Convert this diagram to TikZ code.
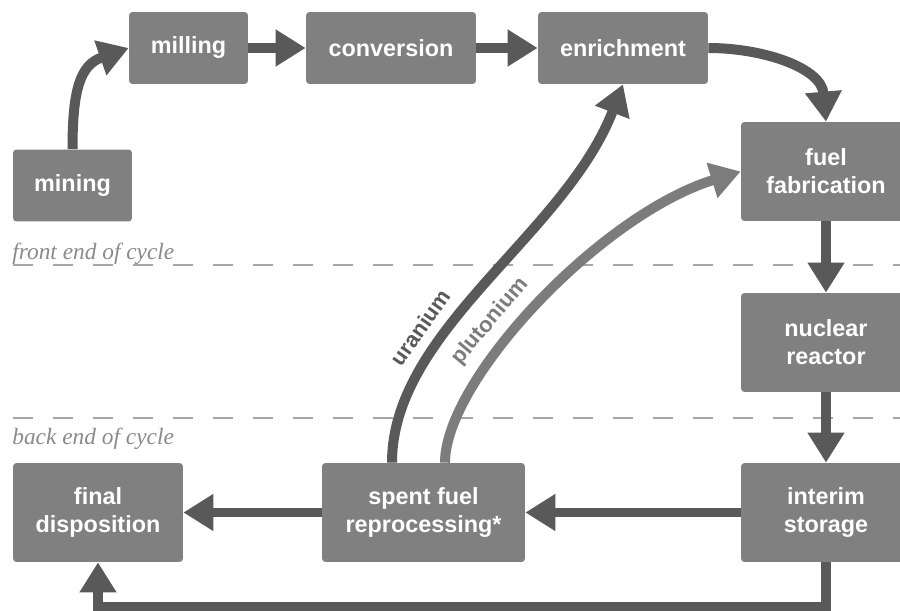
\documentclass[tikz,border=0pt]{standalone}
\usepackage{fontspec}
\setmainfont{Liberation Sans}
\newfontfamily\phaseserif{Liberation Serif}
\usepackage{xcolor}
\usetikzlibrary{arrows.meta,positioning,calc}
\definecolor{boxgray}{HTML}{808080}
\definecolor{flowgray}{HTML}{595959}
\definecolor{plugray}{HTML}{7C7C7C}
\definecolor{dashgray}{HTML}{A6A6A6}
\definecolor{phasegray}{HTML}{8A8A8A}

\begin{document}
\begin{tikzpicture}[x=0.02cm, y=-0.02cm,
    stage/.style={fill=boxgray, rounded corners=2pt, text=white, align=center,
        font=\bfseries\fontsize{13.3}{16}\selectfont, inner sep=0pt,
        minimum width=3.4cm, minimum height=1.98cm},
    topstage/.style={stage, minimum height=1.44cm},
    smallstage/.style={topstage, minimum width=2.38cm},
    flow/.style={draw=flowgray, line width=0.2cm, -{Triangle[length=0.6cm,width=0.7cm]}},
    pluflow/.style={flow, draw=plugray, -{Triangle[length=0.6cm,width=0.7cm,fill=plugray]}},
    flowlabel/.style={font=\bfseries\fontsize{12.5}{14}\selectfont, sloped, above, inner sep=5pt},
    divider/.style={draw=dashgray, line width=0.8pt, dash pattern=on 0.4cm off 0.4cm},
    phase/.style={text=phasegray, font=\phaseserif\itshape\fontsize{13.3}{16}\selectfont, inner sep=0pt, anchor=base west}]
    \useasboundingbox (0,0) rectangle (900,611);

    \draw[divider] (13,265) -- (900,265);
    \draw[divider] (13,418) -- (900,418);
    \node[phase] (frontend) at (12,260) {front end of cycle};
    \node[phase] (backend) at (12,444) {back end of cycle};

    \node[smallstage] (mining) at (72.5,185.5) {mining};
    \node[smallstage] (milling) at (188.5,48) {milling};
    \node[topstage] (conversion) at (391,48) {conversion};
    \node[topstage] (enrichment) at (623,48) {enrichment};
    \node[stage] (fabrication) at (826,171.5) {fuel\\fabrication};
    \node[stage] (reactor) at (826,342.5) {nuclear\\reactor};
    \node[stage] (storage) at (826,512.5) {interim\\storage};
    \node[stage, minimum width=4.06cm] (reprocessing) at (423.5,512.5) {spent fuel\\reprocessing*};
    \node[stage] (disposition) at (98,512.5) {final\\disposition};

    \draw[flow] (mining.north) .. controls (72.5,90) and (80,65) .. (milling.west);
    \draw[flow] (milling) -- (conversion);
    \draw[flow] (conversion) -- (enrichment);
    \draw[flow] (enrichment.east) to[out=0,in=95] (fabrication.north);
    \draw[flow] (fabrication) -- (reactor);
    \draw[flow] (reactor) -- (storage);
    \draw[flow] (storage) -- (reprocessing);
    \draw[flow] (reprocessing) -- (disposition);
    \draw[flow] (storage.south) -- ++(0,45) -| (disposition.south);

    \draw[pluflow] ([xshift=0.43cm]reprocessing.north) .. controls (445,380) and (600,215) ..
        node[flowlabel, text=plugray, pos=0.4] (plulabel) {plutonium} (fabrication.west);
    \draw[flow] ([xshift=-0.63cm]reprocessing.north) .. controls (392,330) and (565,235) ..
        node[flowlabel, text=flowgray, pos=0.33] (uraniumlabel) {uranium} (enrichment.south);
\end{tikzpicture}
\end{document}
